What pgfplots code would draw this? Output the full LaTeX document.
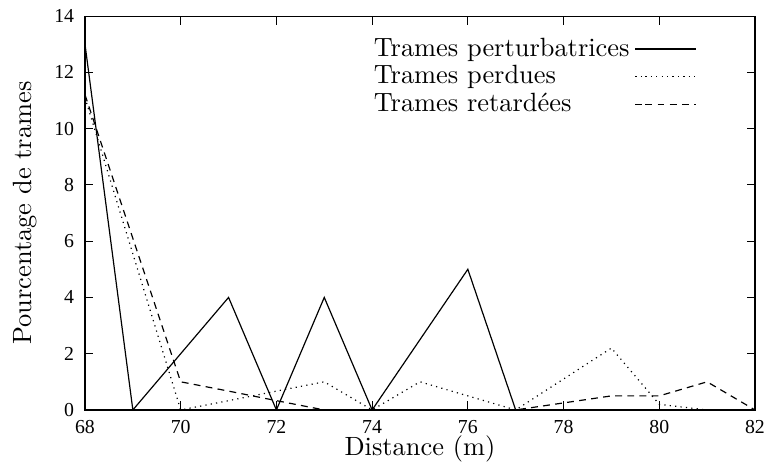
\documentclass[border=0pt]{standalone}
\usepackage{fontspec}
\usepackage{pgfplots}
\pgfplotsset{compat=1.18}
\newfontfamily\tickfont{Liberation Serif}
\begin{document}
\begin{tikzpicture}
\begin{axis}[
  scale only axis,
  width=253.8pt, height=149.2pt,
  at={(0,0)}, anchor=south west,
  xmin=68, xmax=82, ymin=0, ymax=14,
  xtick={68,70,...,82}, ytick={0,2,...,14},
  tick align=inside,
  major tick length=3.2pt,
  axis line style={line width=0.45pt},
  every tick/.style={black,line width=0.45pt},
  /pgf/number format/assume math mode=true,
  tick label style={font=\tickfont\fontsize{7.5}{8}\selectfont},
  xticklabel style={yshift=-0.3pt},
  yticklabel style={xshift=-0.6pt},
  xlabel={Distance (m)},
  ylabel={Pourcentage de trames},
  xlabel style={at={(axis description cs:0.5,-0.1)},anchor=center},
  ylabel style={at={(axis description cs:-0.0894,0.5)},anchor=center},
  legend cell align=left,
  legend style={draw=none,fill=none,at={(0.917,0.966)},anchor=north east,
    row sep=-2pt, inner sep=1pt,
    legend plot pos=right},
  legend image code/.code={\path (0pt,0pt) -- (3.8pt,0pt);\draw[#1] (3.8pt,0pt) -- (22.8pt,0pt);},
]
\addplot[black,line width=0.45pt] coordinates {
(68,13) (69,0) (70,2) (71,4) (72,0) (73,4) (74,0) (75,2.5) (76,5) (77,0)
(78,0) (79,0) (80,0) (81,0) (82,0)};
\addlegendentry{Trames perturbatrices}
\addplot[black,line width=0.45pt,dash pattern=on 0.45pt off 1.6pt] coordinates {
(68,11.1) (69,5.55) (70,0) (71,0.33) (72,0.67) (73,1) (74,0) (75,1) (76,0.5) (77,0)
(78,1.1) (79,2.2) (80,0.2) (81,0) (82,0)};
\addlegendentry{Trames perdues}
\addplot[black,line width=0.45pt,dash pattern=on 2.6pt off 2pt] coordinates {
(68,11.2) (69,6.1) (70,1) (71,0.67) (72,0.33) (73,0) (74,0) (75,0) (76,0) (77,0)
(78,0.25) (79,0.5) (80,0.5) (81,1) (82,0)};
\addlegendentry{Trames retard\'ees}
\end{axis}
\pgfresetboundingbox
\path[use as bounding box] (-32.2pt,-21.6pt) rectangle (259.5pt,155.3pt);
\end{tikzpicture}
\end{document}
